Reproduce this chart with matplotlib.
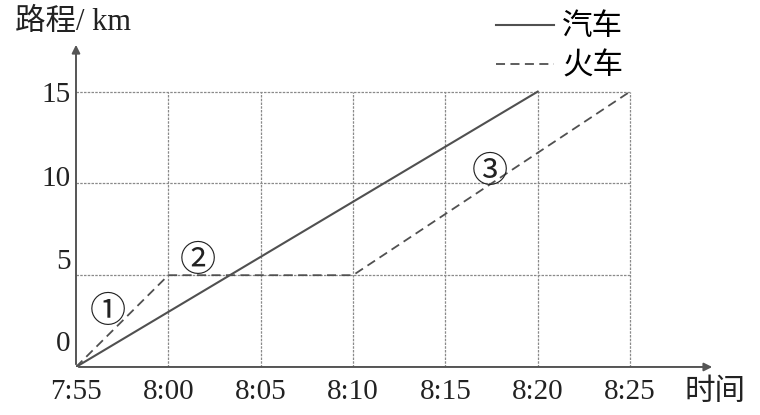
import matplotlib.pyplot as plt
from matplotlib.transforms import ScaledTranslation

plt.rcParams['font.family'] = ['Liberation Serif', 'Noto Sans CJK SC', 'DejaVu Sans']

# minutes after 7:55
time_ticks = [0, 5, 10, 15, 20, 25, 30]
time_labels = ['7:55', '8:00', '8:05', '8:10', '8:15', '8:20', '8:25']
dist_ticks = [0, 5, 10, 15]

car_t = [0, 25]
car_d = [0, 15]
train_t = [0, 5, 15, 30]
train_d = [0, 5, 5, 15]

stage_marks = ['①', '②', '③']
stage_t = [1.7, 6.6, 22.4]
stage_d = [3.0, 5.8, 10.6]

fig = plt.figure(figsize=(7.6, 4.15), dpi=100)
ax = fig.add_axes([0.1, 0.1157, 0.8408, 0.783])
ax.set_xlim(0, 34.6)
ax.set_ylim(0, 17.7)

grid_kw = dict(color='#8a8a8a', lw=0.9, linestyles=(0, (2, 1)), zorder=1)
ax.hlines(dist_ticks[1:], time_ticks[0], time_ticks[-1], **grid_kw)
ax.vlines(time_ticks[1:], dist_ticks[0], dist_ticks[-1], **grid_kw)

ax.plot(car_t, car_d, color='#505050', lw=1.5, label='汽车', zorder=3)
ax.plot(train_t, train_d, color='#505050', lw=1.3, ls=(0, (5, 3)), label='火车', zorder=3)

for m, t, d in zip(stage_marks, stage_t, stage_d):
    ax.text(t, d, m, fontsize=26, ha='center', va='center', color='#222222',
            family=['Noto Sans CJK SC'])

for s in ax.spines.values():
    s.set_visible(False)
arrow = dict(arrowstyle='-|>', color='#555555', lw=1.4, mutation_scale=12)
ax.annotate('', xy=(1, 0), xytext=(0, 0), xycoords='axes fraction', arrowprops=arrow)
ax.annotate('', xy=(0, 1), xytext=(0, 0), xycoords='axes fraction', arrowprops=arrow)

ax.set_xticks(time_ticks)
ax.set_xticklabels(time_labels, fontsize=21, color='#222222')
ax.set_yticks(dist_ticks)
ax.set_yticklabels([str(v) for v in dist_ticks], fontsize=21, color='#222222')
ax.tick_params(length=0)
ax.tick_params(axis='x', pad=9)
ax.tick_params(axis='y', pad=4)

# the printed figure has its y labels nudged upwards
for lab, dy in zip(ax.get_yticklabels(), [26, 16, 7, 0]):
    lab.set_transform(lab.get_transform() + ScaledTranslation(0, dy / 100, fig.dpi_scale_trans))

fig.text(15 / 760, 1 - 22 / 415, '路程/ km', fontsize=22, ha='left', va='center', color='#222222')
fig.text(715 / 760, 1 - 392 / 415, '时间', fontsize=22, ha='center', va='center', color='#222222')

ax.legend(loc='upper left', bbox_to_anchor=(481 / 760, 1 + 2 / 415),
          bbox_transform=fig.transFigure, frameon=False, fontsize=22,
          handlelength=1.9, handletextpad=0.25, labelspacing=0.33, borderpad=0)

fig.savefig('out.png', dpi=100)
